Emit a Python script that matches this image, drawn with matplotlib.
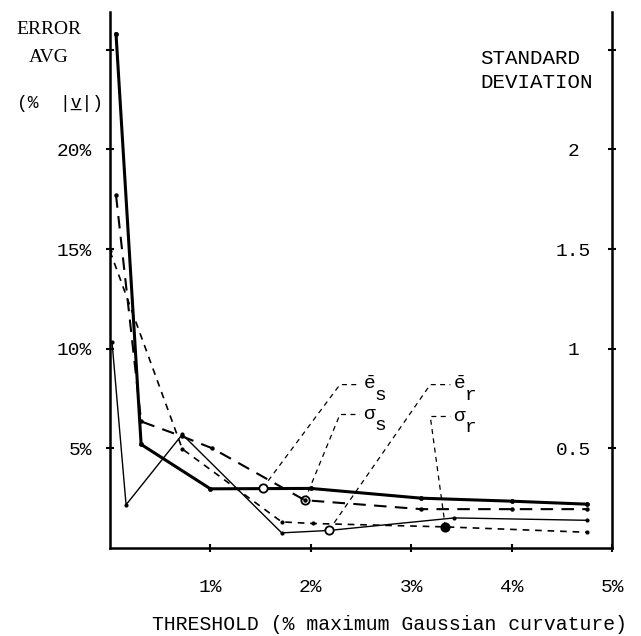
import numpy as np
import matplotlib
matplotlib.use("Agg")
import matplotlib.pyplot as plt

plt.rcParams['mathtext.fontset'] = 'custom'
plt.rcParams['mathtext.rm'] = 'Liberation Mono'
plt.rcParams['mathtext.it'] = 'Liberation Mono'

# -----------------------------------------------------------------------------
# Data (threshold in % of max Gaussian curvature)
# -----------------------------------------------------------------------------
# mean errors, % |v|  (left axis)
es_x = [0.06, 0.31, 1.0, 2.0, 3.1, 4.0, 4.75]
es_y = [25.8, 5.2, 2.97, 2.99, 2.5, 2.35, 2.2]

er_x = [0.02, 0.16, 0.72, 1.71, 2.18, 3.43, 4.75]
er_y = [10.35, 2.17, 5.7, 0.76, 0.88, 1.51, 1.39]

# standard deviations (right axis)
ss_x = [0.06, 0.31, 0.72, 1.02, 1.94, 3.1, 4.0, 4.75]
ss_y = [1.77, 0.635, 0.56, 0.50, 0.24, 0.195, 0.195, 0.195]

sr_x = [0.0, 0.72, 1.71, 2.02, 3.34, 4.75]
sr_y = [1.49, 0.497, 0.131, 0.123, 0.106, 0.079]

# curve labels: marker point, leader corner (left axis units)
lab_main = [r'$\bar{\mathrm{e}}$', 'σ', r'$\bar{\mathrm{e}}$', 'σ']
lab_sub = ['s', 's', 'r', 'r']
mk_x = [1.52, 1.94, 2.18, 3.34]
mk_y = [3.0, 2.4, 0.88, 1.06]
mk_fill = ['white', 'white', 'white', 'black']
corner_x = [2.29, 2.29, 3.19, 3.19]
corner_y = [8.2, 6.7, 8.2, 6.6]

x_ticks = [1, 2, 3, 4, 5]
x_labels = ['1%', '2%', '3%', '4%', '5%']
yl_ticks = [5, 10, 15, 20, 25]
yl_labels = ['5%', '10%', '15%', '20%', '']
yr_ticks = [0.5, 1, 1.5, 2, 2.5]
yr_labels = ['0.5', '1', '1.5', '2', '']

MONO = ['Liberation Mono', 'DejaVu Sans Mono']
SERIF = ['Liberation Serif', 'DejaVu Serif']

# -----------------------------------------------------------------------------
# Figure
# -----------------------------------------------------------------------------
W, H = 641, 636
fig = plt.figure(figsize=(W / 100, H / 100), dpi=100)
ax = fig.add_axes([110 / W, 1 - 548 / H, 502 / W, 536 / H])
ax2 = ax.twinx()

ax.set_xlim(0, 5.0)
ax.set_ylim(0, 26.9)
ax2.set_ylim(0, 2.69)

# curves
ax.plot(es_x, es_y, color='black', lw=2.2, marker='o', ms=2.5, zorder=3)
ax.plot(er_x, er_y, color='black', lw=1.0, marker='o', ms=2.0, zorder=3)
ax2.plot(ss_x, ss_y, color='black', lw=1.5, dashes=(6, 4), marker='o', ms=2.2, zorder=3)
ax2.plot(sr_x, sr_y, color='black', lw=1.2, dashes=(4, 3.5), marker='o', ms=2.0, zorder=3)

# leaders + labels
for i in range(len(lab_main)):
    lx = [mk_x[i], corner_x[i], corner_x[i] + 0.2]
    ly = [mk_y[i], corner_y[i], corner_y[i]]
    ax.plot(lx, ly, color='black', lw=0.9, dashes=(4, 3.5), zorder=2)
    ax.plot(mk_x[i], mk_y[i], marker='o', ms=6, mfc=mk_fill[i], mec='black',
            mew=1.3, zorder=4)
    tx = corner_x[i] + 0.23
    ax.text(tx, corner_y[i], lab_main[i], family=MONO, fontsize=14,
            ha='left', va='center')
    ax.annotate(lab_sub[i], xy=(tx, corner_y[i]), xytext=(8.5, -8),
                textcoords='offset points', family=MONO, fontsize=14,
                ha='left', va='center')

# spines and ticks
ax.spines['top'].set_visible(False)
ax.spines['right'].set_visible(False)
for s in ['top', 'left', 'bottom']:
    ax2.spines[s].set_visible(False)
for s in ['left', 'bottom']:
    ax.spines[s].set_linewidth(1.8)
ax2.spines['right'].set_linewidth(1.8)

ax.set_xticks(x_ticks)
ax.set_xticklabels(x_labels, family=MONO, fontsize=14)
ax.set_yticks(yl_ticks)
ax.set_yticklabels(yl_labels, family=MONO, fontsize=14)
ax.tick_params(axis='x', direction='inout', length=6, width=1.5, pad=19)
ax.tick_params(axis='y', direction='inout', length=6, width=1.5, pad=10)

ax2.set_yticks(yr_ticks)
ax2.set_yticklabels(yr_labels, family=MONO, fontsize=14)
ax2.tick_params(axis='y', direction='inout', length=6, width=1.5, pad=-31)
for t in ax2.get_yticklabels():
    t.set_horizontalalignment('center')

# axis titles
fig.text(49 / W, 1 - 30 / H, 'ERROR', family=SERIF, fontsize=14,
         ha='center', va='center')
fig.text(49 / W, 1 - 57 / H, 'AVG', family=SERIF, fontsize=14,
         ha='center', va='center')
fig.text(17 / W, 1 - 103 / H, '(%  |v|)', family=MONO, fontsize=13,
         ha='left', va='center')
# underline under the v (vector)
fig.text(17 / W, 1 - 103 / H, '     _  ', family=MONO, fontsize=13,
         ha='left', va='center')
fig.text(480 / W, 1 - 58 / H, 'STANDARD', family=MONO, fontsize=15,
         ha='left', va='center')
fig.text(480 / W, 1 - 83 / H, 'DEVIATION', family=MONO, fontsize=15,
         ha='left', va='center')
fig.text(390 / W, 1 - 625 / H, 'THRESHOLD (% maximum Gaussian curvature)',
         family=MONO, fontsize=14.2, ha='center', va='center')

fig.savefig('out.png', dpi=100)
